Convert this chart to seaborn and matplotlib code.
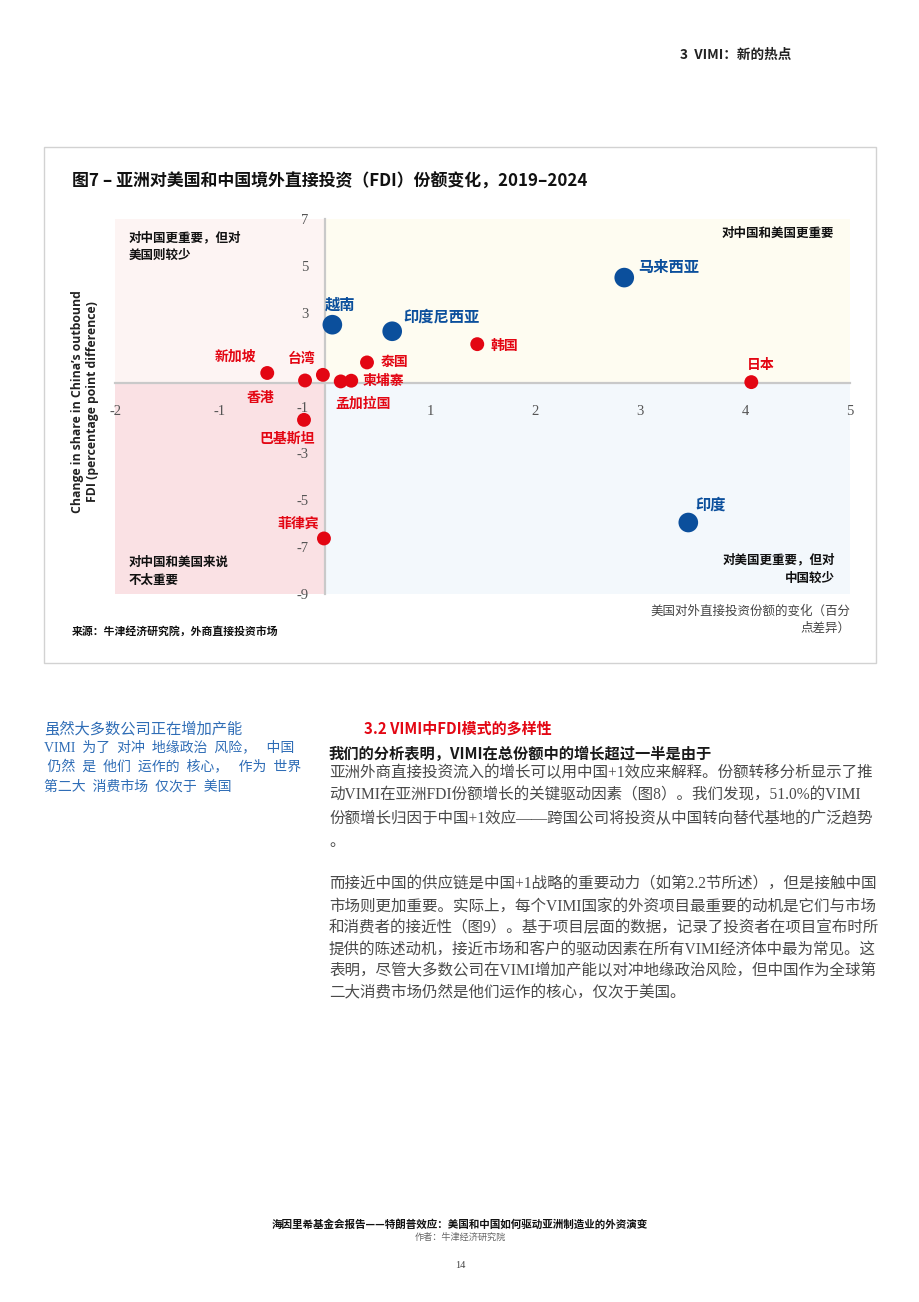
import matplotlib.pyplot as plt
import seaborn as sns
import pandas as pd
from matplotlib.patches import Rectangle

# ==========================================
# 数据
# ==========================================
countries = ['越南', '印度尼西亚', '马来西亚', '印度', '韩国', '日本', '泰国',
             '柬埔寨', '孟加拉国', '台湾', '香港', '新加坡', '巴基斯坦', '菲律宾']
us_change = [0.07, 0.64, 2.85, 3.46, 1.45, 4.06, 0.40,
             0.25, 0.15, -0.02, -0.19, -0.55, -0.20, -0.01]
china_change = [2.49, 2.21, 4.50, -5.95, 1.66, 0.04, 0.88,
                0.10, 0.07, 0.35, 0.11, 0.43, -1.57, -6.63]
group = ['VIMI', 'VIMI', 'VIMI', 'VIMI', '其他', '其他', '其他',
         '其他', '其他', '其他', '其他', '其他', '其他', '其他']

x_ticks = [-2, -1, 1, 2, 3, 4, 5]
y_ticks = [7, 5, 3, 1, -1, -3, -5, -7, -9]
y_tick_labels = ['7', '5', '3', '', '-1', '-3', '-5', '-7', '-9']

title = '图7 – 亚洲对美国和中国境外直接投资（FDI）份额变化，2019–2024'
y_label = 'Change in share in China’s outbound\nFDI (percentage point difference)'
x_label = '美国对外直接投资份额的变化（百分\n点差异）'
source = '来源：牛津经济研究院，外商直接投资市场'

para1 = ['亚洲外商直接投资流入的增长可以用中国+1效应来解释。份额转移分析显示了推',
         '动VIMI在亚洲FDI份额增长的关键驱动因素（图8）。我们发现，51.0%的VIMI',
         '份额增长归因于中国+1效应——跨国公司将投资从中国转向替代基地的广泛趋势',
         '。']
para2 = ['而接近中国的供应链是中国+1战略的重要动力（如第2.2节所述），但是接触中国',
         '市场则更加重要。实际上，每个VIMI国家的外资项目最重要的动机是它们与市场',
         '和消费者的接近性（图9）。基于项目层面的数据，记录了投资者在项目宣布时所',
         '提供的陈述动机，接近市场和客户的驱动因素在所有VIMI经济体中最为常见。这',
         '表明，尽管大多数公司在VIMI增加产能以对冲地缘政治风险，但中国作为全球第',
         '二大消费市场仍然是他们运作的核心，仅次于美国。']
pull_quote = ['VIMI  为了  对冲  地缘政治  风险，   中国',
              ' 仍然  是  他们  运作的  核心，   作为  世界',
              '第二大  消费市场  仅次于  美国']

# 标签位置 (像素偏移, 对齐)
label_pos = {
    '越南': (8, -20, 'center'), '印度尼西亚': (11, -15, 'left'),
    '马来西亚': (14, -11, 'left'), '印度': (7, -18, 'left'),
    '韩国': (13, 2, 'left'), '日本': (9, -17, 'center'),
    '泰国': (14, 0, 'left'), '柬埔寨': (11, 0, 'left'),
    '孟加拉国': (-5, 22, 'left'), '台湾': (-21, -16, 'center'),
    '香港': (-45, 18, 'center'), '新加坡': (-32, -16, 'center'),
    '巴基斯坦': (-17, 19, 'center'), '菲律宾': (-26, -15, 'center'),
}

BLUE = '#0b4f9c'
RED = '#e30613'
W, H = 920, 1302

sns.set_theme(style='white')
plt.rcParams['font.family'] = ['Noto Sans CJK SC', 'DejaVu Sans']
plt.rcParams['axes.unicode_minus'] = False

fig = plt.figure(figsize=(W / 100, H / 100), dpi=100)
fig.patch.set_facecolor('white')


def ftext(x, y, s, **kw):
    kw.setdefault('va', 'center')
    fig.text(x / W, 1 - y / H, s, **kw)


# 图框
fig.add_artist(Rectangle((44 / W, 1 - 663 / H), (876 - 44) / W, (663 - 147) / H,
                         transform=fig.transFigure, fill=False,
                         edgecolor='#d2d2d2', linewidth=1))

# ==========================================
# 散点图
# ==========================================
ax = fig.add_axes([115 / W, 1 - 594 / H, (850 - 115) / W, (594 - 219) / H])
ax.patch.set_visible(False)

quads = [(-2, 0, 2, 7, '#fdf4f3'), (0, 0, 5, 7, '#fefcf1'),
         (-2, -9, 2, 9, '#fae1e4'), (0, -9, 5, 9, '#f3f8fc')]
for x0, y0, w, h, c in quads:
    ax.add_patch(Rectangle((x0, y0), w, h, facecolor=c, edgecolor='none', zorder=0))

df = pd.DataFrame({'country': countries, 'us': us_change,
                   'china': china_change, 'group': group})
sns.scatterplot(data=df, x='us', y='china', hue='group', size='group',
                palette={'VIMI': BLUE, '其他': RED},
                sizes={'VIMI': 200, '其他': 100},
                edgecolor='none', legend=False, ax=ax, zorder=4)

for name, xv, yv, g in zip(countries, us_change, china_change, group):
    dx, dy, ha = label_pos[name]
    ax.annotate(name, (xv, yv), xytext=(dx, -dy), textcoords='offset pixels',
                ha=ha, va='center', fontsize=11 if g == 'VIMI' else 10,
                fontweight='bold', color=BLUE if g == 'VIMI' else RED, zorder=5)

ax.set_xlim(-2, 5)
ax.set_ylim(-9, 7)
for side in ['top', 'right']:
    ax.spines[side].set_visible(False)
for side in ['left', 'bottom']:
    ax.spines[side].set_position(('data', 0))
    ax.spines[side].set_color('#c9c9c9')
    ax.spines[side].set_linewidth(1.6)
    ax.spines[side].set_zorder(2)

ax.set_xticks(x_ticks)
ax.set_xticklabels([str(v) for v in x_ticks])
ax.set_yticks(y_ticks)
ax.set_yticklabels(y_tick_labels)
ax.tick_params(axis='both', direction='out', length=7, width=1.4, color='#c9c9c9',
               labelsize=10.5, labelcolor='#555555')
ax.tick_params(axis='x', pad=9)
ax.tick_params(axis='y', pad=5)
for lab in ax.get_xticklabels() + ax.get_yticklabels():
    lab.set_family('Liberation Serif')
ax.set_xlabel('')
ax.set_ylabel('')
ax.grid(False)

# 象限说明
ax.text(0.018, 0.968, '对中国更重要，但对\n美国则较少', transform=ax.transAxes,
        ha='left', va='top', fontsize=9, fontweight='bold', color='#111111', linespacing=1.5)
ax.text(0.978, 0.978, '对中国和美国更重要', transform=ax.transAxes,
        ha='right', va='top', fontsize=9, fontweight='bold', color='#111111')
ax.text(0.018, 0.02, '对中国和美国来说\n不太重要', transform=ax.transAxes,
        ha='left', va='bottom', fontsize=9, fontweight='bold', color='#111111', linespacing=1.5)
ax.text(0.98, 0.025, '对美国更重要，但对\n中国较少', transform=ax.transAxes,
        ha='right', va='bottom', fontsize=9, fontweight='bold', color='#111111',
        linespacing=1.5, multialignment='right')

# 标题与轴标签
ftext(72, 182, title, fontsize=12.2, fontweight='bold', color='#111111')
ftext(85, 402, y_label, rotation=90, ha='center', fontsize=8.8, fontweight='bold',
      color='#222222', family=['Open Sans', 'DejaVu Sans'], linespacing=1.25,
      multialignment='center')
ftext(850, 620, x_label, ha='right', fontsize=9, color='#444444',
      multialignment='right', linespacing=1.45)
ftext(72, 631, source, fontsize=7.8, fontweight='bold', color='#111111')

# ==========================================
# 页面文字
# ==========================================
ftext(680, 55, '3  VIMI：新的热点', fontsize=9.8, fontweight='bold', color='#222222')

ftext(44, 730, '虽然大多数公司正在增加产能', fontsize=11, color='#2f6db6')
for i, line in enumerate(pull_quote):
    ftext(44, 747 + 20 * i, line, fontsize=10, color='#2f6db6',
          family=['Liberation Serif', 'Noto Sans CJK SC'])

ftext(364, 729, '3.2 VIMI中FDI模式的多样性', fontsize=10.8, fontweight='bold', color=RED)
ftext(329, 754, '我们的分析表明，VIMI在总份额中的增长超过一半是由于', fontsize=11,
      fontweight='bold', color='#1a1a1a')
body_font = ['Liberation Serif', 'Noto Sans CJK SC']
for i, line in enumerate(para1):
    ftext(329, 773 + 23 * i, line, fontsize=11.2, color='#4a4a4a', family=body_font)
for i, line in enumerate(para2):
    ftext(329, 885 + 21.6 * i, line, fontsize=11.2, color='#4a4a4a', family=body_font)

ftext(460, 1224, '海因里希基金会报告——特朗普效应：美国和中国如何驱动亚洲制造业的外资演变',
      ha='center', fontsize=7.6, fontweight='bold', color='#111111')
ftext(460, 1237, '作者：牛津经济研究院', ha='center', fontsize=6.6, color='#666666')
ftext(460, 1266, '14', ha='center', fontsize=7.5, color='#444444', family='Liberation Serif')

fig.savefig('out.png', dpi=100, facecolor='white')
